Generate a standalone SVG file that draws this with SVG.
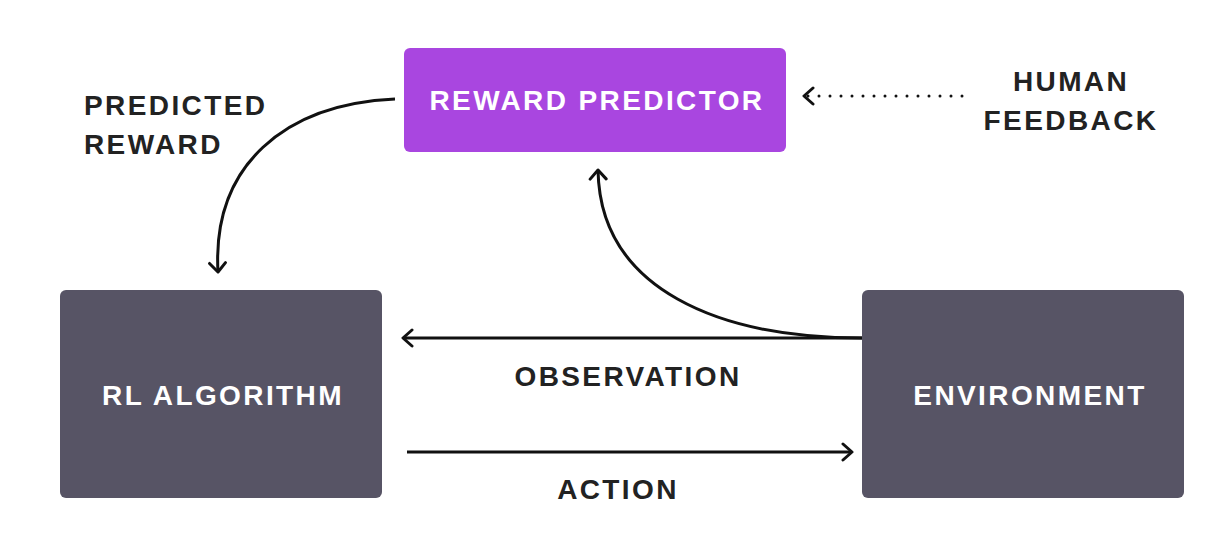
<svg xmlns="http://www.w3.org/2000/svg" width="1224" height="550" viewBox="0 0 1224 550">
<style>
.box{fill:#575465}
.purple{fill:#A946E0}
.nt{font-family:"Liberation Sans",Arial,sans-serif;font-weight:bold;font-size:28px;letter-spacing:2.4px;fill:#fff;text-anchor:middle}
.lb{font-family:"Liberation Sans",Arial,sans-serif;font-weight:bold;font-size:28px;letter-spacing:2.4px;fill:#222}
.c{fill:none;stroke:#111;stroke-width:3}
</style>
<defs>
<marker id="arr" viewBox="0 0 14 20" refX="12" refY="10" markerWidth="14" markerHeight="20" markerUnits="userSpaceOnUse" orient="auto">
<path d="M3 2 L12 10 L3 18" fill="none" stroke="#111" stroke-width="3" stroke-linecap="round" stroke-linejoin="round"/>
</marker>
</defs>
<rect width="1224" height="550" fill="#fff"/>
<g id="reward-predictor">
<rect class="purple" x="404" y="48" width="382" height="104" rx="6"/>
<text class="nt" x="597" y="110">REWARD PREDICTOR</text>
</g>
<g id="rl-algorithm">
<rect class="box" x="60" y="290" width="322" height="208" rx="6"/>
<text class="nt" x="223" y="405">RL ALGORITHM</text>
</g>
<g id="environment">
<rect class="box" x="862" y="290" width="322" height="208" rx="6"/>
<text class="nt" x="1030" y="405">ENVIRONMENT</text>
</g>
<g id="connectors">
<path class="c" d="M862 338 L403 338" marker-end="url(#arr)"/>
<path class="c" d="M407 452 L852 452" marker-end="url(#arr)"/>
<path class="c" d="M862 338 C720 338 600 290 598 170" marker-end="url(#arr)"/>
<path class="c" d="M395 99 C285 104 212 165 218 272" marker-end="url(#arr)"/>
<path class="c" d="M962 96 L804 96" stroke-dasharray="0 11" stroke-linecap="round" marker-end="url(#arr)"/>
</g>
<g id="labels">
<text class="lb" x="84" y="115">PREDICTED</text>
<text class="lb" x="84" y="154">REWARD</text>
<text class="lb" x="1071" y="91" text-anchor="middle">HUMAN</text>
<text class="lb" x="1071" y="130" text-anchor="middle">FEEDBACK</text>
<text class="lb" x="628" y="386" text-anchor="middle">OBSERVATION</text>
<text class="lb" x="618" y="499" text-anchor="middle">ACTION</text>
</g>
</svg>
